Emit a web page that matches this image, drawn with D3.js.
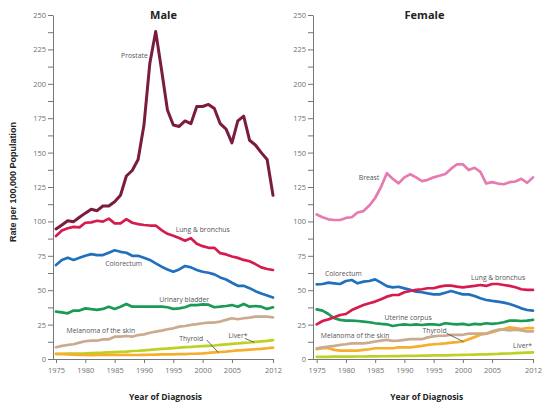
<!DOCTYPE html>
<html>
<head>
<meta charset="utf-8">
<script src="https://cdn.jsdelivr.net/npm/d3@7/dist/d3.min.js"></script>
<style>
  html, body { margin: 0; padding: 0; background: #fff; }
  svg { display: block; }
  .tick text { font-family: "Open Sans", sans-serif; fill: #707070; }
</style>
</head>
<body>
<svg id="chart" width="550" height="410"></svg>
<script>
// ---------- DATA ----------
const years = d3.range(1975, 2013);
const xTickYears = [1975, 1980, 1985, 1990, 1995, 2000, 2005, 2012];
const yTickValues = d3.range(0, 250.1, 12.5);

const maleProstate = [94.5, 97.4, 100.5, 99.8, 103, 106, 108.8, 107.8, 111.2, 111.2, 114.3, 119, 133, 137, 145, 170, 215, 238, 210, 181, 170, 169, 173, 171, 183.5, 183.5, 185, 182, 171, 167, 157, 173, 176.5, 159, 155.5, 150, 145, 119];
const maleLung = [89.4, 93.3, 95, 96, 95.7, 99, 99.3, 100.5, 99.8, 102, 98.6, 98.6, 101.6, 99, 98, 97.4, 97, 97, 93.7, 91, 89.6, 88, 86, 87.8, 83.7, 82, 80.8, 80.8, 76.9, 76, 74.5, 73.5, 72, 71, 69, 66.6, 65.4, 64.7];
const maleColorectum = [68.3, 72, 73.6, 72, 73.6, 75, 76.2, 75.5, 75.5, 77.2, 79, 77.9, 77.2, 75, 75, 73.6, 72, 69.5, 67.1, 65.1, 63.4, 65.1, 67.6, 66.6, 64.7, 63.4, 62.7, 61.5, 59.3, 57.8, 55.4, 53.2, 53.2, 51.5, 49.3, 47.6, 46.1, 44.7];
const maleBladder = [34.4, 33.9, 33.2, 35.2, 35.2, 36.8, 36.2, 35.7, 36.4, 38, 36.4, 38, 40, 38, 38, 38, 38, 38, 38, 37.6, 36.4, 36.8, 37.6, 39.2, 39.2, 39.7, 39.5, 37.6, 38, 38.5, 39.2, 38, 40, 38, 38.5, 38, 36.4, 37.6];
const maleMelanoma = [8.5, 9.5, 10.2, 10.7, 11.9, 12.9, 13.3, 13.3, 14.3, 14.3, 16.2, 16.2, 16.7, 16.2, 17.4, 17.9, 19.1, 19.9, 20.6, 21.6, 22.3, 23.5, 24, 24.8, 25.3, 26, 26.5, 26.5, 27.2, 28.4, 29.6, 28.9, 29.6, 30.1, 30.8, 30.8, 30.8, 30.3];
const maleThyroid = [3.6, 3.5, 3.4, 3.2, 3.0, 2.9, 2.8, 2.9, 2.9, 3.0, 3.0, 2.9, 3.0, 2.9, 2.9, 3.0, 3.1, 3.2, 3.3, 3.4, 3.4, 3.5, 3.6, 3.8, 3.9, 4.1, 4.4, 4.8, 5.1, 5.4, 5.8, 6.2, 6.4, 6.8, 7.1, 7.4, 7.8, 8.2];
const maleLiver = [3.8, 3.8, 3.9, 4.0, 4.0, 4.1, 4.3, 4.5, 4.6, 4.8, 5.0, 5.2, 5.4, 5.8, 6.0, 6.3, 6.6, 7.0, 7.3, 7.6, 7.9, 8.2, 8.6, 8.8, 9.1, 9.4, 9.6, 9.8, 10.2, 10.6, 11.0, 11.3, 11.7, 12.0, 12.4, 12.8, 13.2, 13.7];

const femaleBreast = [105, 103, 101.5, 101, 101, 102.5, 103, 106.5, 107.5, 111.5, 117, 125, 135, 131, 127.6, 132, 134.3, 132, 129.3, 130.2, 132, 133.2, 134.4, 138.3, 141.5, 141.5, 137.3, 139, 136, 127.5, 128.5, 127.5, 127, 128.5, 129, 131, 128, 132];
const femaleLung = [25.2, 27.6, 28.8, 30.3, 32, 32.7, 35.6, 37.5, 39.2, 40.5, 41.7, 43.4, 45.3, 46.5, 46.5, 48.5, 49.4, 50.2, 50.7, 51.4, 51.4, 52.6, 53.3, 53.3, 52.6, 52.1, 52.6, 53.1, 53.8, 53.1, 54.5, 54.5, 53.8, 53.1, 52.1, 50.7, 50.2, 50.2];
const femaleColorectum = [54.3, 54.5, 55.5, 55, 54.5, 56.7, 57.4, 55, 56.2, 56.7, 57.9, 55.5, 53, 52.1, 52.5, 51.3, 50.2, 49, 48.5, 47.7, 47, 47, 48.2, 49.4, 48.2, 47, 47, 45.8, 44.1, 42.9, 42.2, 41.7, 41, 40, 38.5, 36.8, 35.6, 35.1];
const femaleUterine = [36.1, 35.2, 32.7, 29.6, 28.4, 27.9, 27.9, 27.6, 27.2, 26.7, 26, 25.5, 25.2, 24, 24.7, 25.2, 24.7, 25.2, 24.7, 25.2, 25.2, 24.7, 26, 25.5, 25.2, 25.5, 24.7, 25.5, 25.2, 26, 25.5, 26, 26.7, 27.9, 27.9, 27.6, 27.9, 28.4];
const femaleMelanoma = [7.8, 8.5, 9, 9.5, 10.2, 10.7, 11.4, 11.4, 11.4, 11.9, 12.7, 13.4, 13.9, 13.2, 13.4, 13.9, 14.4, 14.4, 14.4, 15.7, 16.4, 16.9, 16.9, 17.6, 17.6, 17.6, 18.4, 18.4, 18.4, 18.4, 20.1, 21.3, 21.3, 20.8, 21.3, 20.8, 20.1, 20.1];
const femaleThyroid = [7.1, 7.8, 7.8, 6.6, 6.1, 6.1, 6.1, 6.1, 6.6, 7.1, 7.8, 7.8, 7.8, 7.8, 8.5, 8.5, 8.5, 9, 9.5, 10.2, 10.7, 11, 11.4, 11.9, 12.2, 12.7, 14.4, 15.9, 17.6, 18.4, 19.4, 20.8, 21.8, 23, 22.5, 21.8, 22.5, 22.5];
const femaleLiver = [1.6, 1.6, 1.6, 1.7, 1.7, 1.7, 1.7, 1.8, 1.8, 1.9, 1.9, 2.0, 2.0, 2.1, 2.1, 2.2, 2.3, 2.3, 2.4, 2.5, 2.6, 2.6, 2.7, 2.8, 2.9, 3.0, 3.1, 3.2, 3.3, 3.4, 3.6, 3.7, 3.9, 4.0, 4.2, 4.4, 4.6, 4.8];

const maleNames = ["Prostate", "Lung & bronchus", "Colorectum", "Urinary bladder", "Melanoma of the skin", "Thyroid", "Liver*"];
const femaleNames = ["Breast", "Lung & bronchus", "Colorectum", "Uterine corpus", "Melanoma of the skin", "Thyroid", "Liver*"];

// ---------- STYLE / LAYOUT ----------
const colors = {
  "Prostate": "#7b1b40",
  "Breast": "#e57bb1",
  "Lung & bronchus": "#d61c4e",
  "Colorectum": "#2170bd",
  "Urinary bladder": "#1b9a57",
  "Uterine corpus": "#1b9a57",
  "Melanoma of the skin": "#cbab8f",
  "Thyroid": "#f7ae2c",
  "Liver*": "#bcd124"
};

// label anchor positions in data space [year, value]
const maleLabelPos = {
  "Prostate": [1986.1, 220.4],
  "Lung & bronchus": [1995.4, 94.3],
  "Colorectum": [1983.4, 69],
  "Urinary bladder": [1992.6, 43.4],
  "Melanoma of the skin": [1976.8, 20.3],
  "Thyroid": [1996.0, 14.8],
  "Liver*": [2004.4, 17.2]
};
const femaleLabelPos = {
  "Breast": [1982.2, 131.8],
  "Lung & bronchus": [2001.4, 59.4],
  "Colorectum": [1976.4, 62.3],
  "Uterine corpus": [1986.6, 30.3],
  "Melanoma of the skin": [1975.7, 16.7],
  "Thyroid": [1993.1, 20.3],
  "Liver*": [2008.6, 9.4]
};
const maleLeaders = [
  [[2000.7, 13.8], [2002.7, 4.6]],
  [[2007.2, 15.0], [2008.8, 12.1]]
];
const femaleLeaders = [
  [[1997.2, 18.7], [2000.1, 12.6]]
];

const svg = d3.select("#chart");
const yScale = d3.scaleLinear().domain([0, 250]).range([359, 15]);

function drawPanel(cfg) {
  const x = d3.scaleLinear().domain([1975, 2012]).range(cfg.xRange);
  const g = svg.append("g");

  // y axis
  const yAxis = d3.axisLeft(yScale)
    .tickValues(yTickValues)
    .tickFormat(d => (d % 25 === 0 ? d : ""))
    .tickSize(5).tickSizeOuter(0).tickPadding(2);
  const ya = g.append("g").attr("transform", `translate(${cfg.axisX},0)`).call(yAxis);
  ya.selectAll("text").style("font-size", "7.5px");

  // x axis
  const xAxis = d3.axisBottom(x)
    .tickValues(xTickYears)
    .tickFormat(d3.format("d"))
    .tickSize(4).tickSizeOuter(0).tickPadding(5);
  const xa = g.append("g").attr("transform", `translate(0,${yScale(0)})`).call(xAxis);
  xa.selectAll("text").style("font-size", "7.5px");
  xa.select(".domain").attr("d", `M${cfg.axisX},0.5H${cfg.xRange[1]}`);

  svg.selectAll(".domain, .tick line").attr("stroke", "#777");

  // lines
  const line = d3.line().x((d, i) => x(years[i])).y(d => yScale(d));
  cfg.series.slice().reverse().forEach(s => {
    g.append("path")
      .datum(s.values)
      .attr("fill", "none")
      .attr("stroke", colors[s.name])
      .attr("stroke-width", s.name === "Prostate" ? 3 : 2.7)
      .attr("stroke-linejoin", "round")
      .attr("stroke-linecap", "round")
      .attr("d", line);
  });

  // leaders
  cfg.leaders.forEach(l => {
    g.append("line")
      .attr("x1", x(l[0][0])).attr("y1", yScale(l[0][1]))
      .attr("x2", x(l[1][0])).attr("y2", yScale(l[1][1]))
      .attr("stroke", "#444").attr("stroke-width", 0.8);
  });

  // labels
  Object.entries(cfg.labels).forEach(([name, p]) => {
    g.append("text")
      .attr("x", x(p[0])).attr("y", yScale(p[1]))
      .attr("dy", "0.35em")
      .style("font-family", "'Open Sans', sans-serif")
      .style("font-size", "6.8px")
      .style("fill", "#555")
      .text(name);
  });

  // title
  g.append("text")
    .attr("x", cfg.titleX).attr("y", 15).attr("dy", "0.35em")
    .attr("text-anchor", "middle")
    .style("font-family", "'Open Sans', sans-serif")
    .style("font-weight", "bold").style("font-size", "11px").style("fill", "#222")
    .text(cfg.title);

  // x axis title
  g.append("text")
    .attr("x", cfg.xTitleX).attr("y", 397).attr("dy", "0.35em")
    .attr("text-anchor", "middle")
    .style("font-family", "'Open Sans', sans-serif")
    .style("font-weight", "bold").style("font-size", "8.5px").style("fill", "#222")
    .text("Year of Diagnosis");
}

drawPanel({
  title: "Male", titleX: 163.5, xTitleX: 165.5,
  xRange: [56, 273], axisX: 53,
  series: [
    { name: "Prostate", values: maleProstate },
    { name: "Lung & bronchus", values: maleLung },
    { name: "Colorectum", values: maleColorectum },
    { name: "Urinary bladder", values: maleBladder },
    { name: "Melanoma of the skin", values: maleMelanoma },
    { name: "Thyroid", values: maleThyroid },
    { name: "Liver*", values: maleLiver }
  ],
  labels: maleLabelPos, leaders: maleLeaders
});

drawPanel({
  title: "Female", titleX: 424.5, xTitleX: 426.7,
  xRange: [316.7, 533], axisX: 313,
  series: [
    { name: "Breast", values: femaleBreast },
    { name: "Lung & bronchus", values: femaleLung },
    { name: "Colorectum", values: femaleColorectum },
    { name: "Uterine corpus", values: femaleUterine },
    { name: "Melanoma of the skin", values: femaleMelanoma },
    { name: "Thyroid", values: femaleThyroid },
    { name: "Liver*", values: femaleLiver }
  ],
  labels: femaleLabelPos, leaders: femaleLeaders
});

// y axis title
svg.append("text")
  .attr("transform", "translate(13,182) rotate(-90)")
  .attr("text-anchor", "middle").attr("dy", "0.35em")
  .style("font-family", "'Liberation Sans', Arial, sans-serif")
  .style("font-weight", "bold").style("font-size", "9px").style("fill", "#222")
  .text("Rate per 100,000 Population");
</script>
</body>
</html>
